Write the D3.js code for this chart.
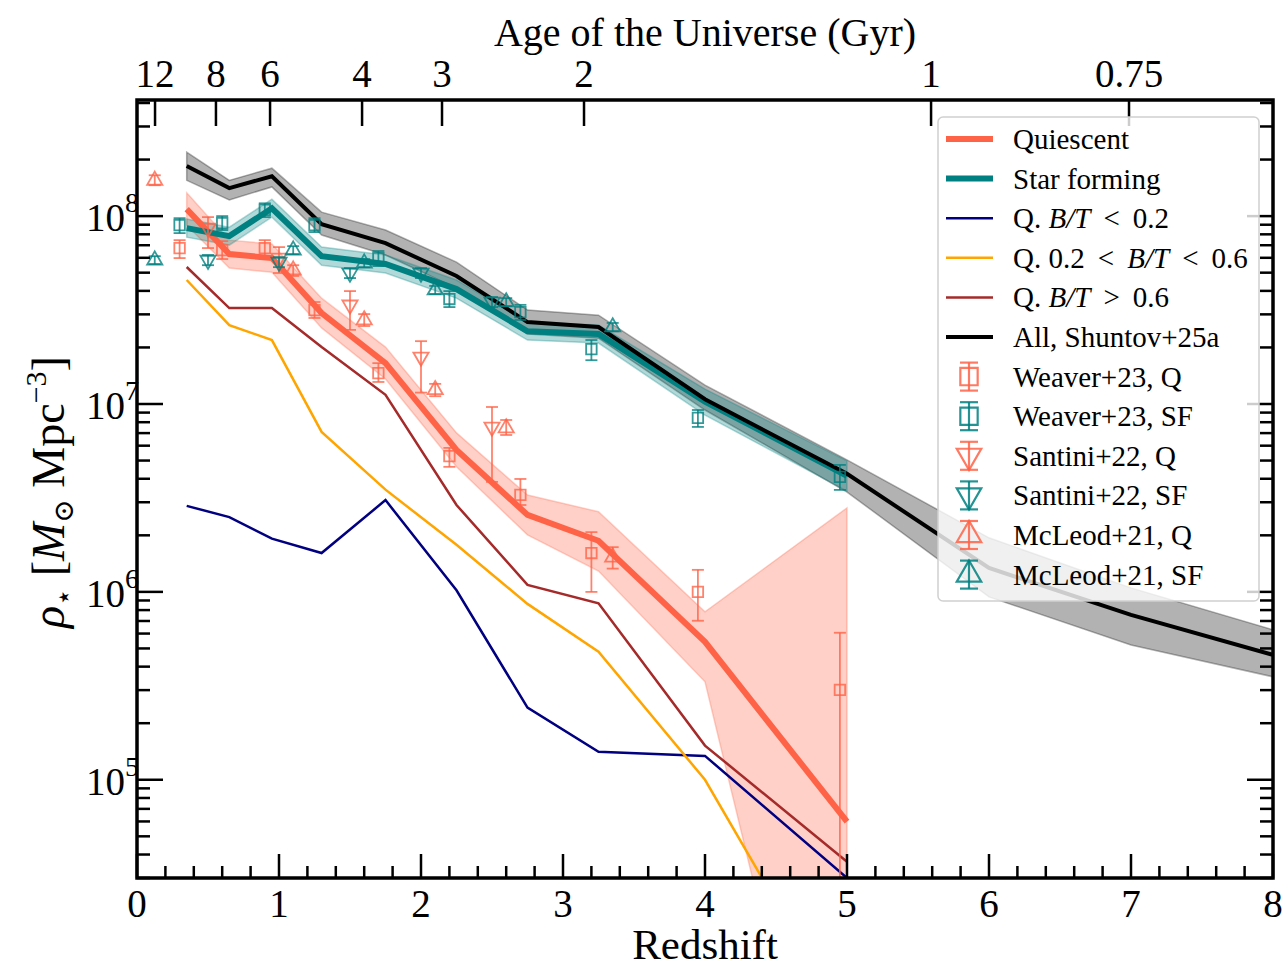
<!DOCTYPE html>
<html><head><meta charset="utf-8">
<script src="https://cdn.jsdelivr.net/npm/d3@7"></script>
<style>
body{margin:0;background:#fff;}
svg{display:block;font-family:"Liberation Serif","DejaVu Serif",serif;}
</style></head>
<body><svg id="c" width="1284" height="970"></svg>
<script>
// ---------- DATA ----------
const zBins = [0.35,0.65,0.95,1.3,1.75,2.25,2.75,3.25,4.0,5.0];
const zAll = [0.35,0.65,0.95,1.3,1.75,2.25,2.75,3.25,4.0,5.0,6,7,8];

const allMid = [1.85e8,1.41e8,1.63e8,9.06e7,7.18e7,4.80e7,2.73e7,2.57e7,1.06e7,4.25e6,1.34e6,7.55e5,4.62e5];
const allUp  = [2.19e8,1.55e8,1.80e8,1.05e8,8.43e7,5.69e7,3.16e7,2.97e7,1.26e7,5.04e6,1.94e6,1.05e6,6.28e5];
const allLo  = [1.55e8,1.22e8,1.43e8,7.93e7,6.21e7,4.14e7,2.36e7,2.24e7,9.29e6,3.40e6,9.40e5,5.22e5,3.53e5];

const sfMid = [8.63e7,7.83e7,1.10e8,6.12e7,5.56e7,4.09e7,2.44e7,2.36e7,1.03e7,4.14e6];
const sfUp  = [9.64e7,8.73e7,1.23e8,6.84e7,6.21e7,4.57e7,2.73e7,2.63e7,1.20e7,4.98e6];
const sfLo  = [7.73e7,7.01e7,9.88e7,5.48e7,4.98e7,3.66e7,2.19e7,2.11e7,8.73e6,3.44e6];

const qMid = [1.09e8,6.28e7,5.98e7,3.05e7,1.65e7,5.69e6,2.57e6,1.87e6,5.42e5,5.98e4];
const qUp  = [1.33e8,7.45e7,7.10e7,3.66e7,2.01e7,7.02e6,3.28e6,2.67e6,7.83e5,2.80e6];
const qLo  = [8.96e7,5.29e7,5.03e7,2.54e7,1.36e7,4.63e6,2.01e6,1.29e6,3.32e5,2.5e2];

const btLow  = [2.87e6,2.50e6,1.92e6,1.61e6,3.08e6,1.02e6,2.42e5,1.41e5,1.34e5,3.0e4];
const btMidS = [4.57e7,2.63e7,2.19e7,7.10e6,3.50e6,1.78e6,8.63e5,4.80e5,1.00e5,5.0e3];
const btHigh = [5.36e7,3.24e7,3.24e7,2.01e7,1.12e7,2.90e6,1.09e6,8.70e5,1.52e5,3.66e4];

// literature points
const weaverZ   = [0.3,0.6,0.9,1.25,1.7,2.2,2.7,3.2,3.95,4.95];
const weaverQ   = [6.76e7,6.59e7,6.76e7,3.16e7,1.46e7,5.28e6,3.28e6,1.61e6,1.00e6,3.01e5];
const weaverQUp = [7.45e7,7.36e7,7.45e7,3.49e7,1.65e7,5.84e6,3.99e6,2.08e6,1.31e6,6.06e5];
const weaverQLo = [5.98e7,5.91e7,5.98e7,2.87e7,1.31e7,4.63e6,2.90e6,1.00e6,7.02e5,1.0e3];
const weaverSF   = [8.96e7,9.18e7,1.08e8,8.96e7,5.98e7,3.62e7,3.08e7,1.96e7,8.43e6,4.09e6];
const weaverSFUp = [9.75e7,1.00e8,1.17e8,9.75e7,6.52e7,3.99e7,3.37e7,2.19e7,9.29e6,4.74e6];
const weaverSFLo = [8.12e7,8.43e7,9.88e7,8.22e7,5.42e7,3.28e7,2.80e7,1.71e7,7.55e6,3.49e6];

const santiniZ    = [0.5,1.0,1.5,2.0,2.5];
const santiniQ    = [8.63e7,5.98e7,3.37e7,1.78e7,7.55e6];
const santiniQUp  = [9.88e7,6.84e7,3.99e7,2.16e7,9.64e6];
const santiniQLo  = [6.76e7,4.98e7,2.48e7,1.15e7,3.85e6];
const santiniSF   = [5.83e7,5.69e7,4.98e7,4.98e7,3.49e7];
const santiniSFUp = [6.21e7,6.05e7,5.29e7,5.29e7,3.71e7];
const santiniSFLo = [5.48e7,5.35e7,4.68e7,4.68e7,3.28e7];

const mcleodZ    = [0.125,1.1,1.6,2.1,2.6,3.35];
const mcleodQ    = [1.55e8,5.16e7,2.80e7,1.19e7,7.45e6,1.53e6];
const mcleodQUp  = [1.65e8,5.48e7,3.01e7,1.28e7,8.22e6,1.73e6];
const mcleodQLo  = [1.46e8,4.80e7,2.60e7,1.10e7,6.84e6,1.33e6];
const mcleodSF   = [5.83e7,6.59e7,5.62e7,4.04e7,3.49e7,2.57e7];
const mcleodSFUp = [6.12e7,6.92e7,5.91e7,4.25e7,3.66e7,2.70e7];
const mcleodSFLo = [5.56e7,6.28e7,5.35e7,3.85e7,3.32e7,2.44e7];

// axes
const xTicks = [0,1,2,3,4,5,6,7,8];
const yTicks = [1e5,1e6,1e7,1e8];
const yTickExp = ["5","6","7","8"];
const ageLabels = ["12","8","6","4","3","2","1","0.75"];
const ageTickZ  = [0.127,0.556,0.937,1.585,2.148,3.148,5.592,6.986];

const legendLabels = ["Quiescent","Star forming","Q. B/T < 0.2","Q. 0.2 < B/T < 0.6","Q. B/T > 0.6","All, Shuntov+25a",
  "Weaver+23, Q","Weaver+23, SF","Santini+22, Q","Santini+22, SF","McLeod+21, Q","McLeod+21, SF"];

// ---------- STYLE ----------
const C = {q:"#ff6347", sf:"#008080", navy:"#000080", orange:"#ffa500", dred:"#a52a2a", all:"#000000"};

const L=137,R=1273,T=100,B=878;
const svg = d3.select("#c");
const x = d3.scaleLinear().domain([0,8]).range([L,R]);
const y = d3.scaleLog().domain([3e4,4.15e8]).range([B,T]);

svg.append("defs").append("clipPath").attr("id","clip")
  .append("rect").attr("x",L).attr("y",T).attr("width",R-L).attr("height",B-T);
const g = svg.append("g").attr("clip-path","url(#clip)");

const line = d3.line().x(d=>x(d[0])).y(d=>y(d[1]));
const area = d3.area().x(d=>x(d[0])).y0(d=>y(d[2])).y1(d=>y(d[1]));

function band(zs,up,lo,col,op){
  g.append("path").datum(zs.map((z,i)=>[z,up[i],lo[i]])).attr("d",area)
   .attr("fill",col).attr("fill-opacity",op).attr("stroke",col).attr("stroke-opacity",op).attr("stroke-width",1.5);
}
function ln(zs,vals,col,w){
  g.append("path").datum(zs.map((z,i)=>[z,vals[i]])).attr("d",line)
   .attr("fill","none").attr("stroke",col).attr("stroke-width",w).attr("stroke-linejoin","miter");
}

band(zAll,allUp,allLo,"#000",0.3);
band(zBins,qUp,qLo,C.q,0.3);
band(zBins,sfUp,sfLo,C.sf,0.3);

ln(zBins,btLow,C.navy,2.5);
ln(zBins,btMidS,C.orange,2.5);
ln(zBins,btHigh,C.dred,2.5);
ln(zBins,qMid,C.q,6);
ln(zBins,sfMid,C.sf,6);
ln(zAll,allMid,C.all,4);

// markers
function drawMarker(gg,kind,px,py,sq,tri){
  const s = gg.append("path");
  if(kind==="sq") s.attr("d",d3.symbol().type(d3.symbolSquare).size(sq)()).attr("transform",`translate(${px},${py})`);
  else if(kind==="down") s.attr("d",d3.symbol().type(d3.symbolTriangle).size(tri)()).attr("transform",`translate(${px},${py}) rotate(180)`);
  else s.attr("d",d3.symbol().type(d3.symbolTriangle).size(tri)()).attr("transform",`translate(${px},${py})`);
}
function pts(zs,v,up,lo,col,kind){
  const gg = g.append("g").attr("stroke",col).attr("stroke-opacity",0.8).attr("fill","none").attr("stroke-width",1.8);
  zs.forEach((z,i)=>{
    const px=x(z), py=y(v[i]), pu=y(up[i]), pl=y(lo[i]);
    gg.append("line").attr("x1",px).attr("x2",px).attr("y1",pu).attr("y2",pl);
    gg.append("line").attr("x1",px-6).attr("x2",px+6).attr("y1",pu).attr("y2",pu);
    gg.append("line").attr("x1",px-6).attr("x2",px+6).attr("y1",pl).attr("y2",pl);
    drawMarker(gg,kind,px,py,110,100);
  });
}
pts(weaverZ,weaverQ,weaverQUp,weaverQLo,C.q,"sq");
pts(weaverZ,weaverSF,weaverSFUp,weaverSFLo,C.sf,"sq");
pts(santiniZ,santiniQ,santiniQUp,santiniQLo,C.q,"down");
pts(santiniZ,santiniSF,santiniSFUp,santiniSFLo,C.sf,"down");
pts(mcleodZ,mcleodQ,mcleodQUp,mcleodQLo,C.q,"up");
pts(mcleodZ,mcleodSF,mcleodSFUp,mcleodSFLo,C.sf,"up");

// ---------- AXES ----------
const ax = svg.append("g").attr("stroke","#000").attr("stroke-width",2.5);
const xMinor = d3.range(0,8.001,0.2).filter(v=>Math.abs(v-Math.round(v))>1e-6);
xTicks.forEach(v=>{ax.append("line").attr("x1",x(v)).attr("x2",x(v)).attr("y1",B).attr("y2",B-24);});
xMinor.forEach(v=>{ax.append("line").attr("x1",x(v)).attr("x2",x(v)).attr("y1",B).attr("y2",B-12);});
ageTickZ.forEach(v=>{ax.append("line").attr("x1",x(v)).attr("x2",x(v)).attr("y1",T).attr("y2",T+26);});
const yMinor=[];
[4,5,6,7,8].forEach(e=>{for(let k=2;k<=9;k++){const v=k*Math.pow(10,e); if(v>=3e4&&v<=4.15e8) yMinor.push(v);}});
yTicks.forEach(v=>{
  ax.append("line").attr("x1",L).attr("x2",L+26).attr("y1",y(v)).attr("y2",y(v));
  ax.append("line").attr("x1",R).attr("x2",R-26).attr("y1",y(v)).attr("y2",y(v));
});
yMinor.forEach(v=>{
  ax.append("line").attr("x1",L).attr("x2",L+13).attr("y1",y(v)).attr("y2",y(v));
  ax.append("line").attr("x1",R).attr("x2",R-13).attr("y1",y(v)).attr("y2",y(v));
});
svg.append("rect").attr("x",L).attr("y",T).attr("width",R-L).attr("height",B-T)
  .attr("fill","none").attr("stroke","#000").attr("stroke-width",3.5);

// tick labels
const tl = svg.append("g").attr("fill","#000").attr("font-size",39);
xTicks.forEach(v=>tl.append("text").attr("x",x(v)).attr("y",B+39).attr("text-anchor","middle").text(v));
ageTickZ.forEach((v,i)=>tl.append("text").attr("x",x(v)).attr("y",T-13).attr("text-anchor","middle").text(ageLabels[i]));
yTicks.forEach((v,i)=>{
  tl.append("text").attr("x",125).attr("y",y(v)+15).attr("text-anchor","end").text("10");
  tl.append("text").attr("x",125).attr("y",y(v)-4).attr("font-size",28).text(yTickExp[i]);
});

// axis titles
svg.append("text").attr("x",705).attr("y",46).attr("text-anchor","middle").attr("font-size",40).text("Age of the Universe (Gyr)");
svg.append("text").attr("x",705).attr("y",959).attr("text-anchor","middle").attr("font-size",43).text("Redshift");
const yl = svg.append("text").attr("transform","translate(64,492) rotate(-90)").attr("text-anchor","middle").attr("font-size",46);
yl.append("tspan").attr("font-style","italic").text("ρ");
yl.append("tspan").attr("font-size",28).attr("dy",9).text("⋆");
yl.append("tspan").attr("dy",-9).text(" [");
yl.append("tspan").attr("font-style","italic").text("M");
yl.append("tspan").attr("font-size",28).attr("dy",9).text("⊙");
yl.append("tspan").attr("dy",-9).text(" Mpc");
yl.append("tspan").attr("font-size",30).attr("dy",-18).text("−3");
yl.append("tspan").attr("dy",18).text("]");

// ---------- LEGEND ----------
const lg = svg.append("g");
lg.append("rect").attr("x",938).attr("y",117).attr("width",321).attr("height",484).attr("rx",5)
  .attr("fill","#fff").attr("fill-opacity",0.8).attr("stroke","#d0d0d0").attr("stroke-width",1.5);
const rowY = i=>139+i*39.6;
const lineStyles = [[C.q,6],[C.sf,6],[C.navy,2.5],[C.orange,2.5],[C.dred,2.5],[C.all,4]];
lineStyles.forEach((s,i)=>{
  lg.append("line").attr("x1",946).attr("x2",993).attr("y1",rowY(i)).attr("y2",rowY(i)).attr("stroke",s[0]).attr("stroke-width",s[1]);
});
const mk = [[C.q,"sq"],[C.sf,"sq"],[C.q,"down"],[C.sf,"down"],[C.q,"up"],[C.sf,"up"]];
mk.forEach((m,j)=>{
  const i=j+6, cy=rowY(i), cx=969;
  const gg = lg.append("g").attr("stroke",m[0]).attr("stroke-opacity",0.85).attr("fill","none").attr("stroke-width",2.2);
  gg.append("line").attr("x1",cx).attr("x2",cx).attr("y1",cy-14).attr("y2",cy+14);
  gg.append("line").attr("x1",cx-9).attr("x2",cx+9).attr("y1",cy-14).attr("y2",cy-14);
  gg.append("line").attr("x1",cx-9).attr("x2",cx+9).attr("y1",cy+14).attr("y2",cy+14);
  drawMarker(gg,m[1],cx,cy,300,260);
});
legendLabels.forEach((t,i)=>{
  const tx = lg.append("text").attr("x",1013).attr("y",rowY(i)+10).attr("font-size",29).attr("fill","#000");
  if(t.includes("B/T")){
    const parts = t.split("B/T");
    tx.append("tspan").text(parts[0].replace(" < ","\u2009 < \u2009"));
    tx.append("tspan").attr("font-style","italic").text("B/T");
    tx.append("tspan").text(parts[1].replace(" < ","\u2009 < \u2009").replace(" > ","\u2009 > \u2009"));
  } else tx.text(t);
});
</script></body></html>
